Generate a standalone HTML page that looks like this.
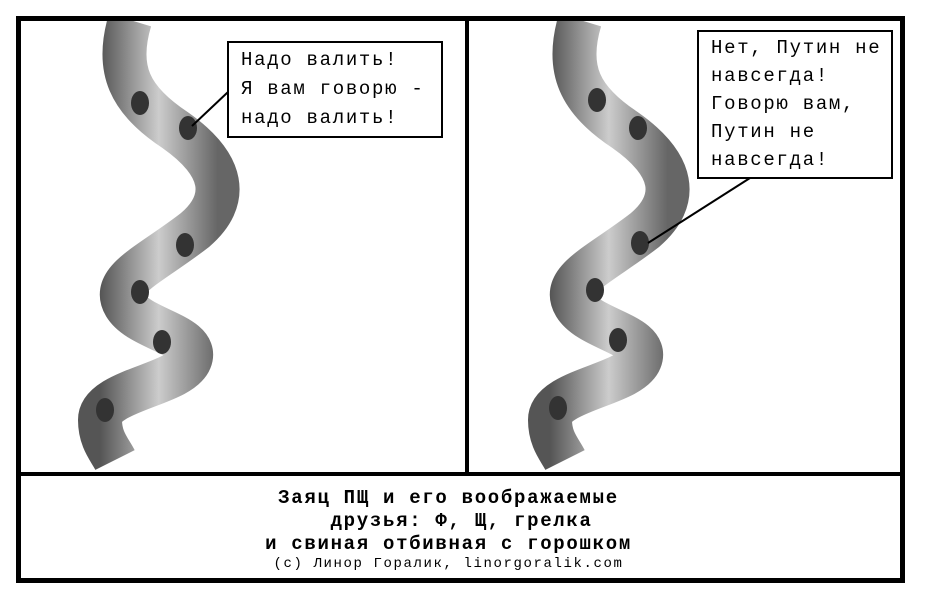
<!DOCTYPE html>
<html><head><meta charset="utf-8"><style>
body{margin:0;background:#fff;width:926px;height:598px;overflow:hidden;position:relative;font-family:"Liberation Mono","DejaVu Sans Mono",monospace}
.b{position:absolute;background:#000}
.box{position:absolute;border:2px solid #000;background:#fff;font-size:19px;letter-spacing:1.7px;line-height:29px;padding-left:12px;box-sizing:border-box;white-space:pre}
.cap{position:absolute;left:9px;width:879px;text-align:center;font-weight:bold;white-space:pre}
</style></head><body>
<svg width="926" height="598" style="position:absolute;left:0;top:0">
<defs><linearGradient id="g" x1="0" x2="1"><stop offset="0" stop-color="#555"/><stop offset=".5" stop-color="#ccc"/><stop offset="1" stop-color="#666"/></linearGradient>
<clipPath id="c"><rect x="21" y="21" width="879" height="451"/></clipPath></defs>
<g fill="none" stroke="url(#g)" stroke-width="44" stroke-linejoin="round" clip-path="url(#c)">
<path d="M130 20 C115 70 130 100 175 130 C225 165 230 200 195 230 C150 265 110 280 125 305 C140 330 200 335 190 360 C180 385 100 390 100 420 C100 440 110 450 115 460"/>
<path d="M580 20 C565 70 580 100 625 130 C675 165 680 200 645 230 C600 265 560 280 575 305 C590 330 650 335 640 360 C630 385 550 390 550 420 C550 440 560 450 565 460"/>
</g>
<g fill="#333"><ellipse cx="140" cy="103" rx="9" ry="12"/><ellipse cx="188" cy="128" rx="9" ry="12"/><ellipse cx="185" cy="245" rx="9" ry="12"/><ellipse cx="140" cy="292" rx="9" ry="12"/><ellipse cx="162" cy="342" rx="9" ry="12"/><ellipse cx="105" cy="410" rx="9" ry="12"/>
<ellipse cx="597" cy="100" rx="9" ry="12"/><ellipse cx="638" cy="128" rx="9" ry="12"/><ellipse cx="640" cy="243" rx="9" ry="12"/><ellipse cx="595" cy="290" rx="9" ry="12"/><ellipse cx="618" cy="340" rx="9" ry="12"/><ellipse cx="558" cy="408" rx="9" ry="12"/></g>
<line x1="228" y1="92" x2="192" y2="126" stroke="#000" stroke-width="2"/>
<line x1="750" y1="178" x2="648" y2="243" stroke="#000" stroke-width="2"/>
</svg>
<div class="b" style="left:16px;top:16px;width:889px;height:5px"></div>
<div class="b" style="left:16px;top:16px;width:5px;height:567px"></div>
<div class="b" style="left:900px;top:16px;width:5px;height:567px"></div>
<div class="b" style="left:16px;top:578px;width:889px;height:5px"></div>
<div class="b" style="left:16px;top:472px;width:889px;height:4px"></div>
<div class="b" style="left:465px;top:16px;width:4px;height:458px"></div>
<div class="box" style="left:227px;top:41px;width:216px;height:97px;padding-top:3px">Надо валить!
Я вам говорю -
надо валить!</div>
<div class="box" style="left:697px;top:30px;width:196px;height:149px;padding-top:2px;line-height:28px">Нет, Путин не
навсегда!
Говорю вам,
Путин не
навсегда!</div>
<div class="cap" style="top:487px;font-size:19px;letter-spacing:1.7px;line-height:23px">Заяц ПЩ и его воображаемые
  друзья: Ф, Щ, грелка
и свиная отбивная с горошком</div>
<div class="cap" style="top:556px;font-size:14px;letter-spacing:1.6px;font-weight:normal">(c) Линор Горалик, linorgoralik.com</div>
</body></html>
